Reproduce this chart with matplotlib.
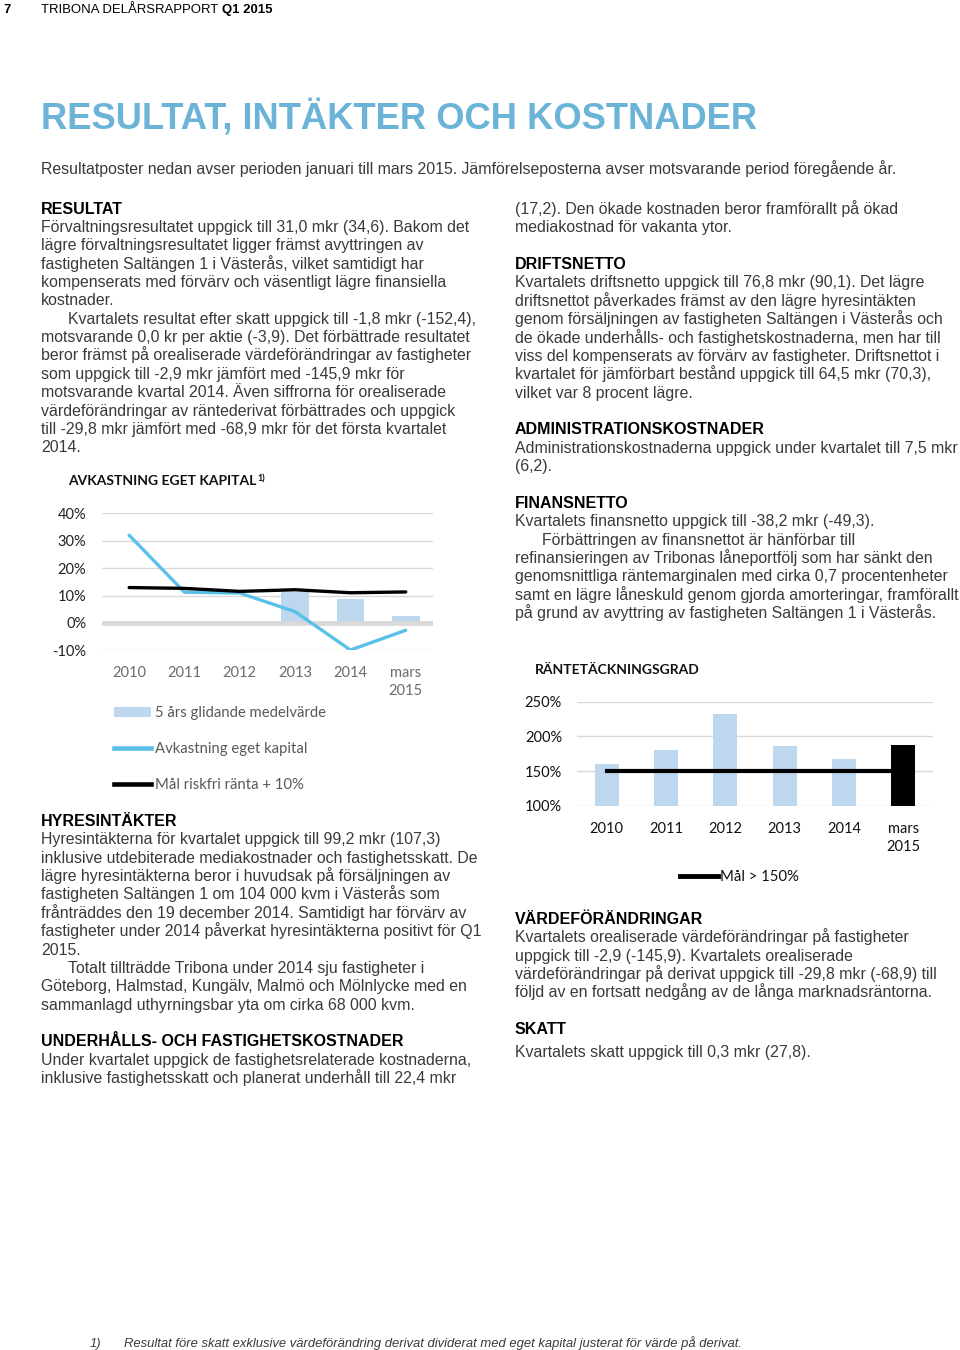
import numpy as np
import matplotlib
matplotlib.use("Agg")
import matplotlib.pyplot as plt
from matplotlib import font_manager
from matplotlib.lines import Line2D
from matplotlib.patches import Patch

# ---------------- data ----------------
categories = ['2010', '2011', '2012', '2013', '2014', 'mars\n2015']
roe = [32.0, 11.2, 10.9, 4.1, -9.9, -2.7]                 # Avkastning eget kapital (%)
roe_target = [12.9, 12.6, 11.5, 12.1, 11.0, 11.3]         # Mål riskfri ränta + 10% (%)
roe_avg5 = [np.nan, np.nan, np.nan, 11.2, 8.7, 2.6]       # 5 års glidande medelvärde (%)
roe_ticks = [-10, 0, 10, 20, 30, 40]

icr = [160, 180, 232, 186, 167, 188]                      # Räntetäckningsgrad (%)
icr_target = [150, 150, 150, 150, 150, 150]               # Mål > 150%
icr_ticks = [100, 150, 200, 250]

# ---------------- page ----------------
W, H = 960, 1350
fig = plt.figure(figsize=(W / 100, H / 100), dpi=100)
fig.patch.set_facecolor('white')
renderer = fig.canvas.get_renderer()

names = {f.name for f in font_manager.fontManager.ttflist}
BODY = ['Liberation Sans', 'DejaVu Sans']
CHART = ['Lato', 'Open Sans', 'DejaVu Sans']
BODY_C = '#3a3a3a'
TITLE_C = '#6BB4D8'
BODY_FS = 11.45
HEAD_FS = 11.5
CFS = 10.5


def T(x, y, s, size=BODY_FS, weight='normal', color=BODY_C, style='normal', family=None):
    return fig.text(x / W, 1 - y / H, s, fontsize=size, fontweight=weight, color=color,
                    fontstyle=style, family=family or BODY, ha='left', va='baseline')


# header
T(3, 13, '7', size=9.45, weight='bold', color='black')
t_hdr = T(41, 13, 'TRIBONA DELÅRSRAPPORT', size=9.45, color='black')
bb = t_hdr.get_window_extent(renderer)
T(bb.x1 + 3.5, 13, 'Q1 2015', size=9.45, weight='bold', color='black')

# title
T(41, 128.5, 'RESULTAT, INTÄKTER OCH KOSTNADER', size=26.2, weight='bold', color=TITLE_C)
T(41, 174, 'Resultatposter nedan avser perioden januari till mars 2015. '
           'Jämförelseposterna avser motsvarande period föregående år.')

LS = 18.37


def block(x, y0, lines):
    for i, item in enumerate(lines):
        if item is None:
            continue
        kind, txt = item
        yy = y0 + i * LS
        if kind == 'h':
            T(x, yy, txt, size=HEAD_FS, weight='bold', color='black')
        elif kind == 'i':
            T(x + 27, yy, txt)
        else:
            T(x, yy, txt)


block(41, 213.5, [
    ('h', 'RESULTAT'),
    ('b', 'Förvaltningsresultatet uppgick till 31,0 mkr (34,6). Bakom det'),
    ('b', 'lägre förvaltningsresultatet ligger främst avyttringen av'),
    ('b', 'fastigheten Saltängen 1 i Västerås, vilket samtidigt har'),
    ('b', 'kompenserats med förvärv och väsentligt lägre finansiella'),
    ('b', 'kostnader.'),
    ('i', 'Kvartalets resultat efter skatt uppgick till -1,8 mkr (-152,4),'),
    ('b', 'motsvarande 0,0 kr per aktie (-3,9). Det förbättrade resultatet'),
    ('b', 'beror främst på orealiserade värdeförändringar av fastigheter'),
    ('b', 'som uppgick till -2,9 mkr jämfört med -145,9 mkr för'),
    ('b', 'motsvarande kvartal 2014. Även siffrorna för orealiserade'),
    ('b', 'värdeförändringar av räntederivat förbättrades och uppgick'),
    ('b', 'till -29,8 mkr jämfört med -68,9 mkr för det första kvartalet'),
    ('b', '2014.'),
])

block(41, 826, [
    ('h', 'HYRESINTÄKTER'),
    ('b', 'Hyresintäkterna för kvartalet uppgick till 99,2 mkr (107,3)'),
    ('b', 'inklusive utdebiterade mediakostnader och fastighetsskatt. De'),
    ('b', 'lägre hyresintäkterna beror i huvudsak på försäljningen av'),
    ('b', 'fastigheten Saltängen 1 om 104 000 kvm i Västerås som'),
    ('b', 'frånträddes den 19 december 2014. Samtidigt har förvärv av'),
    ('b', 'fastigheter under 2014 påverkat hyresintäkterna positivt för Q1'),
    ('b', '2015.'),
    ('i', 'Totalt tillträdde Tribona under 2014 sju fastigheter i'),
    ('b', 'Göteborg, Halmstad, Kungälv, Malmö och Mölnlycke med en'),
    ('b', 'sammanlagd uthyrningsbar yta om cirka 68 000 kvm.'),
    None,
    ('h', 'UNDERHÅLLS- OCH FASTIGHETSKOSTNADER'),
    ('b', 'Under kvartalet uppgick de fastighetsrelaterade kostnaderna,'),
    ('b', 'inklusive fastighetsskatt och planerat underhåll till 22,4 mkr'),
])

block(515, 214, [
    ('b', '(17,2). Den ökade kostnaden beror framförallt på ökad'),
    ('b', 'mediakostnad för vakanta ytor.'),
    None,
    ('h', 'DRIFTSNETTO'),
    ('b', 'Kvartalets driftsnetto uppgick till 76,8 mkr (90,1). Det lägre'),
    ('b', 'driftsnettot påverkades främst av den lägre hyresintäkten'),
    ('b', 'genom försäljningen av fastigheten Saltängen i Västerås och'),
    ('b', 'de ökade underhålls- och fastighetskostnaderna, men har till'),
    ('b', 'viss del kompenserats av förvärv av fastigheter. Driftsnettot i'),
    ('b', 'kvartalet för jämförbart bestånd uppgick till 64,5 mkr (70,3),'),
    ('b', 'vilket var 8 procent lägre.'),
    None,
    ('h', 'ADMINISTRATIONSKOSTNADER'),
    ('b', 'Administrationskostnaderna uppgick under kvartalet till 7,5 mkr'),
    ('b', '(6,2).'),
    None,
    ('h', 'FINANSNETTO'),
    ('b', 'Kvartalets finansnetto uppgick till -38,2 mkr (-49,3).'),
    ('i', 'Förbättringen av finansnettot är hänförbar till'),
    ('b', 'refinansieringen av Tribonas låneportfölj som har sänkt den'),
    ('b', 'genomsnittliga räntemarginalen med cirka 0,7 procentenheter'),
    ('b', 'samt en lägre låneskuld genom gjorda amorteringar, framförallt'),
    ('b', 'på grund av avyttring av fastigheten Saltängen 1 i Västerås.'),
])

block(515, 924, [
    ('h', 'VÄRDEFÖRÄNDRINGAR'),
    ('b', 'Kvartalets orealiserade värdeförändringar på fastigheter'),
    ('b', 'uppgick till -2,9 (-145,9). Kvartalets orealiserade'),
    ('b', 'värdeförändringar på derivat uppgick till -29,8 mkr (-68,9) till'),
    ('b', 'följd av en fortsatt nedgång av de långa marknadsräntorna.'),
])
T(515, 1034, 'SKATT', size=HEAD_FS, weight='bold', color='black')
T(515, 1057, 'Kvartalets skatt uppgick till 0,3 mkr (27,8).')

# footnote
if 'Liberation Sans Narrow' in names:
    FN, fs = ['Liberation Sans Narrow', 'Liberation Sans'], 11.4
else:
    FN, fs = BODY, 9.4
T(90, 1347, '1)', size=fs, style='italic', family=FN)
T(124, 1347, 'Resultat före skatt exklusive värdeförändring derivat dividerat med eget '
             'kapital justerat för värde på derivat.', size=fs, style='italic', family=FN)


def px_axes(left, top, right, bottom):
    return fig.add_axes([left / W, 1 - bottom / H, (right - left) / W, (bottom - top) / H])


GRID = '#D9D9D9'
BAR_C = '#BDD7EE'
LINE_C = '#5BC0E8'

# ---------------- chart 1: Avkastning eget kapital ----------------
ax1 = px_axes(101.5, 513.3, 433.4, 650.3)
x = np.arange(len(categories))
ax1.set_xlim(-0.5, len(categories) - 0.5)
ax1.set_ylim(-10, 40)
for t in roe_ticks:
    if t != 0:
        ax1.axhline(t, color=GRID, lw=1.0, zorder=0)
ax1.bar(x, np.nan_to_num(roe_avg5), width=0.5, color=BAR_C, zorder=1,
        label='5 års glidande medelvärde')
ax1.axhline(0, color=GRID, lw=3.4, zorder=2)
ax1.plot(x, roe, color=LINE_C, lw=2.4, zorder=3, label='Avkastning eget kapital',
         solid_capstyle='round')
ax1.plot(x, roe_target, color='black', lw=2.4, zorder=4, label='Mål riskfri ränta + 10%',
         solid_capstyle='round')
ax1.set_yticks(roe_ticks)
ax1.set_yticklabels([f'{t}%' for t in roe_ticks], family=CHART, fontsize=CFS, color='#222222')
ax1.set_xticks(x)
ax1.set_xticklabels(categories, family=CHART, fontsize=CFS, color='#6b6b6b', linespacing=1.3)
ax1.tick_params(axis='both', length=0)
ax1.tick_params(axis='y', pad=11)
ax1.tick_params(axis='x', pad=11.5)
for s in ax1.spines.values():
    s.set_visible(False)
ax1.set_facecolor('none')

fig.text(68 / W, 1 - 485 / H, 'AVKASTNING EGET KAPITAL', family=CHART, fontsize=10.0,
         fontweight='bold', color='#111111', ha='left', va='baseline')
fig.text(257.5 / W, 1 - 481 / H, '1)', family=CHART, fontsize=6.5,
         fontweight='bold', color='#111111', ha='left', va='baseline')

fig.legend(handles=[Patch(facecolor=BAR_C, edgecolor='none'),
                    Line2D([], [], color=LINE_C, lw=3.3),
                    Line2D([], [], color='black', lw=3.3)],
           labels=['5 års glidande medelvärde', 'Avkastning eget kapital',
                   'Mål riskfri ränta + 10%'],
           loc='upper left', bbox_to_anchor=(114 / W, 1 - 706 / H),
           frameon=False, prop={'family': CHART, 'size': 10.7},
           handlelength=2.5, handleheight=0.7, handletextpad=0.25,
           labelspacing=1.48, borderpad=0, borderaxespad=0, labelcolor='#595959')

# ---------------- chart 2: Räntetäckningsgrad ----------------
ax2 = px_axes(577, 701.7, 933, 805.7)
ax2.set_xlim(-0.5, len(categories) - 0.5)
ax2.set_ylim(100, 250)
for t in icr_ticks:
    ax2.axhline(t, color=GRID, lw=1.0, zorder=0)
bar_colors = [BAR_C] * (len(icr) - 1) + ['black']
ax2.bar(x, icr, width=0.4, color=bar_colors, zorder=1)
ax2.plot(x, icr_target, color='black', lw=3.0, zorder=2, label='Mål > 150%')
ax2.set_yticks(icr_ticks)
ax2.set_yticklabels([f'{t}%' for t in icr_ticks], family=CHART, fontsize=CFS, color='#111111')
ax2.set_xticks(x)
ax2.set_xticklabels(categories, family=CHART, fontsize=CFS, color='#111111', linespacing=1.35)
ax2.tick_params(axis='both', length=0)
ax2.tick_params(axis='y', pad=10.8)
ax2.tick_params(axis='x', pad=11.5)
for s in ax2.spines.values():
    s.set_visible(False)
ax2.set_facecolor('none')

fig.text(535 / W, 1 - 674 / H, 'RÄNTETÄCKNINGSGRAD', family=CHART, fontsize=10.0,
         fontweight='bold', color='#111111', ha='left', va='baseline')

fig.legend(handles=[Line2D([], [], color='black', lw=3.5)], labels=['Mål > 150%'],
           loc='upper left', bbox_to_anchor=(680 / W, 1 - 870 / H),
           frameon=False, prop={'family': CHART, 'size': 10.7},
           handlelength=2.55, handletextpad=0.15, borderpad=0, borderaxespad=0,
           labelcolor='#111111')

fig.savefig('out.png', dpi=100, facecolor='white')
